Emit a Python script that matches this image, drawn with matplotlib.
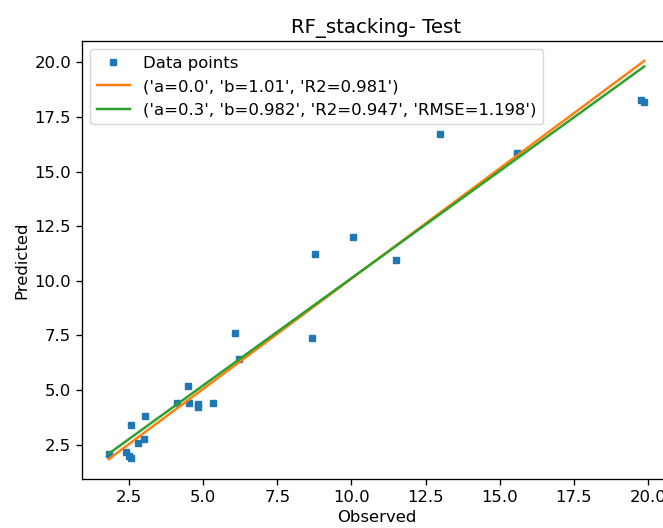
import numpy as np
import matplotlib.pyplot as plt

# observed / predicted values
observed = [1.82, 2.41, 2.50, 2.58, 2.58, 2.82, 3.01, 3.03, 4.12, 4.50, 4.53, 4.84,
            4.84, 5.33, 6.09, 6.21, 8.68, 8.77, 10.06, 11.50, 12.97, 15.58, 19.75, 19.87]
predicted = [2.07, 2.15, 1.99, 1.90, 3.38, 2.56, 2.74, 3.79, 4.40, 5.19, 4.40, 4.38,
             4.21, 4.40, 7.60, 6.40, 7.38, 11.22, 12.01, 10.97, 16.74, 15.85, 18.30, 18.21]

fit1 = (0.0, 1.01)
fit2 = (0.3, 0.982)
label1 = str(('a=0.0', 'b=1.01', 'R2=0.981'))
label2 = str(('a=0.3', 'b=0.982', 'R2=0.947', 'RMSE=1.198'))

s = 1.187  # the original was rendered bigger and cropped
plt.rcParams['font.size'] = 10 * s
plt.rcParams['axes.linewidth'] = 0.8 * s
plt.rcParams['xtick.major.size'] = 3.5 * s
plt.rcParams['ytick.major.size'] = 3.5 * s
plt.rcParams['xtick.major.width'] = 0.8 * s
plt.rcParams['ytick.major.width'] = 0.8 * s

fig = plt.figure(figsize=(6.63, 5.28), dpi=100)
ax = fig.add_axes([82 / 663, 49 / 528, 589 / 663, 438 / 528])

x = np.sort(np.array(observed))
ax.plot(observed, predicted, 's', color='C0', markersize=4, label='Data points')
ax.plot(x, fit1[0] + fit1[1] * x, color='C1', lw=1.5 * s, label=label1)
ax.plot(x, fit2[0] + fit2[1] * x, color='C2', lw=1.5 * s, label=label2)

ax.set_title('RF_stacking- Test', fontsize=12 * s)
ax.set_xlabel('Observed')
ax.set_ylabel('Predicted')
ax.legend(loc='upper left')

fig.savefig('out.png', dpi=100)
